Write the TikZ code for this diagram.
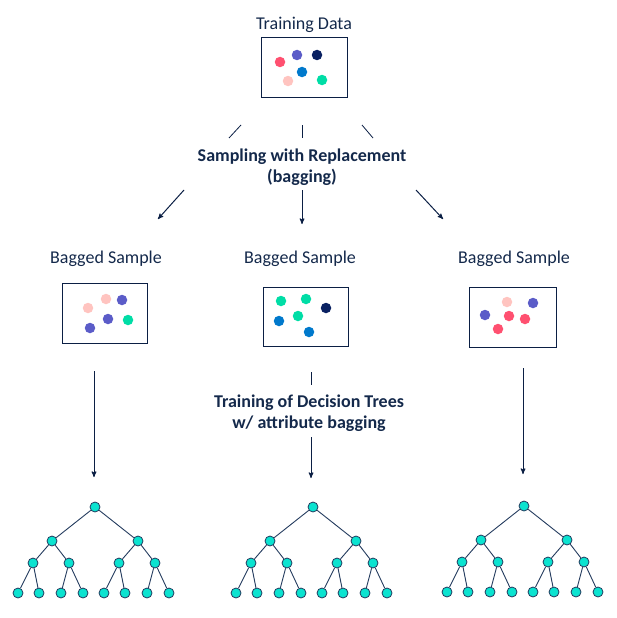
\documentclass[tikz,border=0pt]{standalone}
\usepackage{fontspec}
\setmainfont{Carlito}
\usepackage{tikz}
\usetikzlibrary{arrows}
\definecolor{ink}{HTML}{14294B}
\definecolor{frame}{HTML}{0B1F44}
\definecolor{treeline}{HTML}{233B5E}
\definecolor{treefill}{HTML}{0BE3D0}
\definecolor{dred}{HTML}{FF5070}
\definecolor{dpurple}{HTML}{5B5CC8}
\definecolor{dnavy}{HTML}{0A2162}
\definecolor{dblue}{HTML}{0079CC}
\definecolor{dpink}{HTML}{FFC4C0}
\definecolor{dgreen}{HTML}{00DDA6}

\begin{document}
\begin{tikzpicture}[x=1pt,y=-1pt,>=stealth',font=\fontsize{18}{21}\selectfont]

  \tikzstyle{sample}=[rectangle,draw=frame,line width=1pt,inner sep=0pt]
  \tikzstyle{dot}=[circle,inner sep=0pt,minimum size=10.5pt]
  \tikzstyle{leaf}=[circle,draw=treeline,fill=treefill,line width=0.8pt,
                    inner sep=0pt,minimum size=10pt]
  \tikzstyle{title}=[text=ink]
  \tikzstyle{caption}=[text=ink,align=center,font=\fontsize{18}{21}\selectfont\bfseries]
  \tikzstyle{flow}=[draw=frame,line width=1pt]

  \useasboundingbox (0,0) rectangle (617,618);

  % data sets
  \node [title] (train) at (304,24.5) {Training Data};
  \node [sample,minimum width=86pt,minimum height=59pt] (data) at (304,67.5) {};
  \foreach \x/\y/\c [count=\i] in {280/62/dred,297/55/dpurple,317/55/dnavy,
      302/72/dblue,288/81/dpink,322/80/dgreen}
    \node [dot,fill=\c] (td\i) at (\x,\y) {};

  \node [title] (lab1) at (106,258.5) {Bagged Sample};
  \node [title] (lab2) at (300,258.5) {Bagged Sample};
  \node [title] (lab3) at (514,258.5) {Bagged Sample};
  \node [sample,minimum width=85pt,minimum height=60pt] (bag1) at (104.5,313) {};
  \node [sample,minimum width=85pt,minimum height=59pt] (bag2) at (305.5,316.5) {};
  \node [sample,minimum width=87pt,minimum height=60pt] (bag3) at (512.5,317) {};
  \foreach \x/\y/\c [count=\i] in {106/299/dpink,122/300/dpurple,88/308/dpink,
      108/319/dpurple,128/320/dgreen,90/328/dpurple}
    \node [dot,fill=\c] (ba\i) at (\x,\y) {};
  \foreach \x/\y/\c [count=\i] in {281/301/dgreen,306/299/dgreen,326/308/dnavy,
      298/316/dgreen,279/321/dblue,309/332/dblue}
    \node [dot,fill=\c] (bb\i) at (\x,\y) {};
  \foreach \x/\y/\c [count=\i] in {507/302/dpink,533/303/dpurple,485/315/dpurple,
      509/316/dred,525/319/dred,498/329/dred}
    \node [dot,fill=\c] (bc\i) at (\x,\y) {};

  % sampling
  \node [caption] (bagging) at (302,167) {Sampling with Replacement\\(bagging)};
  \coordinate (s1) at (241,125); \coordinate (e1) at (229,138);
  \coordinate (s2) at (302,125); \coordinate (e2) at (302,138);
  \coordinate (s3) at (362,125); \coordinate (e3) at (373,138);
  \coordinate (p1) at (184,190); \coordinate (q1) at (158,219);
  \coordinate (p2) at (302,190); \coordinate (q2) at (302,224);
  \coordinate (p3) at (416,190); \coordinate (q3) at (443,219);
  \foreach \i in {1,2,3} {
    \draw [flow,line width=0.8pt] (s\i) -- (e\i);
    \draw [flow,->] (p\i) -- (q\i);
  }

  % training
  \node [caption] (training) at (309,413) {Training of Decision Trees\\w/ attribute bagging};
  \coordinate (u1) at (94,371);  \coordinate (v1) at (94,477);
  \coordinate (u2) at (311,437); \coordinate (v2) at (311,478);
  \coordinate (u3) at (523,368); \coordinate (v3) at (523,474);
  \coordinate (m1) at (311,372); \coordinate (m2) at (311,385);
  \draw [flow] (m1) -- (m2);
  \foreach \i in {1,2,3}
    \draw [flow,->] (u\i) -- (v\i);

  % decision trees
  \foreach \t/\rx/\ry in {a/95/507,b/313/507,c/524/506} {
    \begin{scope}[shift={(\rx,\ry)}]
      \foreach \k/\x/\y in {0/0/0,1/-43/34,2/43/34,
          11/-62/56,12/-26/56,21/24/56,22/60/56,
          111/-77/86,112/-56/86,121/-34/86,122/-12/86,
          211/9/86,212/30/86,221/52/86,222/74/86}
        \node [leaf] (\t\k) at (\x,\y) {};
      \foreach \p/\k in {0/1,0/2,1/11,1/12,2/21,2/22,11/111,11/112,
          12/121,12/122,21/211,21/212,22/221,22/222}
        \draw [treeline,line width=0.9pt] (\t\p) -- (\t\k);
    \end{scope}
  }
\end{tikzpicture}
\end{document}
